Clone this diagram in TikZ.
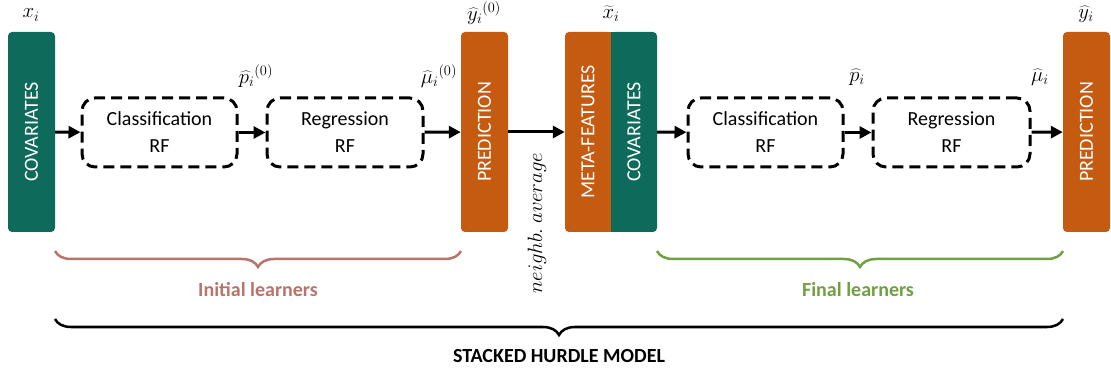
\documentclass[tikz,border=0pt]{standalone}
\usepackage{fontspec}
\setmainfont{Carlito}
\usetikzlibrary{arrows.meta,decorations.pathreplacing}
\definecolor{tealc}{HTML}{0E6B5C}
\definecolor{orangec}{HTML}{C55A11}
\definecolor{rosec}{HTML}{B8736A}
\definecolor{greenc}{HTML}{70A03F}
\begin{document}
\begin{tikzpicture}[x=1pt,y=-1pt,
  every node/.style={font=\fontsize{20}{24}\selectfont, inner sep=0pt},
  colbox/.style={rotate=90, minimum width=200pt, minimum height=47pt, rounded corners=4pt, text=white},
  rfbox/.style={draw, dashed, dash pattern=on 11pt off 6pt, line width=3pt, rounded corners=13pt, minimum width=155pt, minimum height=69pt, align=center},
  arr/.style={line width=3pt, -{Triangle[length=12pt,width=12pt]}},
  mlabel/.style={font=\fontsize{21.5}{24}\selectfont},
  brc/.style={decorate, decoration={brace, mirror, amplitude=16pt}, line width=2.5pt},
  blabel/.style={font=\fontsize{20}{24}\selectfont\bfseries}
]
\useasboundingbox (0,0) rectangle (1111,371);

% columns
\node[colbox, fill=tealc] (cov) at (31.5,132) {COVARIATES};
\node[rfbox] (cls1) at (159.5,132.5) {Classification\\[3pt]RF};
\node[rfbox, minimum width=156pt] (reg1) at (345,132.5) {Regression\\[3pt]RF};
\node[colbox, fill=orangec] (pred1) at (484.5,132) {PREDICTION};
\node[colbox, fill=orangec, minimum height=46pt] (meta) at (588,132) {META-FEATURES};
\node[colbox, fill=tealc, minimum height=46pt] (cov2) at (634,132) {COVARIATES};
\fill[orangec] (600,32) rectangle (611,232);
\fill[tealc] (611,32) rectangle (622,232);
\node[rfbox] (cls2) at (765.5,132.5) {Classification\\[3pt]RF};
\node[rfbox, minimum width=157pt] (reg2) at (951.5,132.5) {Regression\\[3pt]RF};
\node[colbox, fill=orangec] (pred2) at (1086.5,132) {PREDICTION};

% labels
\node[mlabel] (lxi) at (31,15) {$x_i$};
\node[mlabel] (lp0) at (256,76) {$\widehat{p}_i{}^{(0)}$};
\node[mlabel] (lmu0) at (439,76) {$\widehat{\mu}_i{}^{(0)}$};
\node[mlabel] (ly0) at (484,13) {$\widehat{y}_i{}^{(0)}$};
\node[mlabel] (lxt) at (611,14) {$\widetilde{x}_i$};
\node[mlabel] (lp) at (857,77) {$\widehat{p}_i$};
\node[mlabel] (lmu) at (1040,77) {$\widehat{\mu}_i$};
\node[mlabel] (ly) at (1086,14) {$\widehat{y}_i$};
\node[mlabel, rotate=90] (nav) at (537,223) {$neighb.\ average$};

% arrows
\draw[arr] (cov) -- (cls1);
\draw[arr] (cls1) -- (reg1);
\draw[arr] (reg1) -- (pred1);
\draw[arr] (pred1) -- (meta);
\draw[arr] (cov2) -- (cls2);
\draw[arr] (cls2) -- (reg2);
\draw[arr] (reg2) -- (pred2);

% braces
\coordinate (b1a) at (55,251);
\coordinate (b1b) at (461,251);
\coordinate (b2a) at (657,251);
\coordinate (b2b) at (1063,251);
\coordinate (b3a) at (55,319);
\coordinate (b3b) at (1063,319);
\draw[brc, rosec] (b1a) -- (b1b);
\draw[brc, greenc] (b2a) -- (b2b);
\draw[brc, black] (b3a) -- (b3b);
\node[blabel, text=rosec] (tinit) at (258,290) {Initial learners};
\node[blabel, text=greenc] (tfinal) at (858,290) {Final learners};
\node[blabel] (tshm) at (559,356) {STACKED HURDLE MODEL};
\end{tikzpicture}
\end{document}
